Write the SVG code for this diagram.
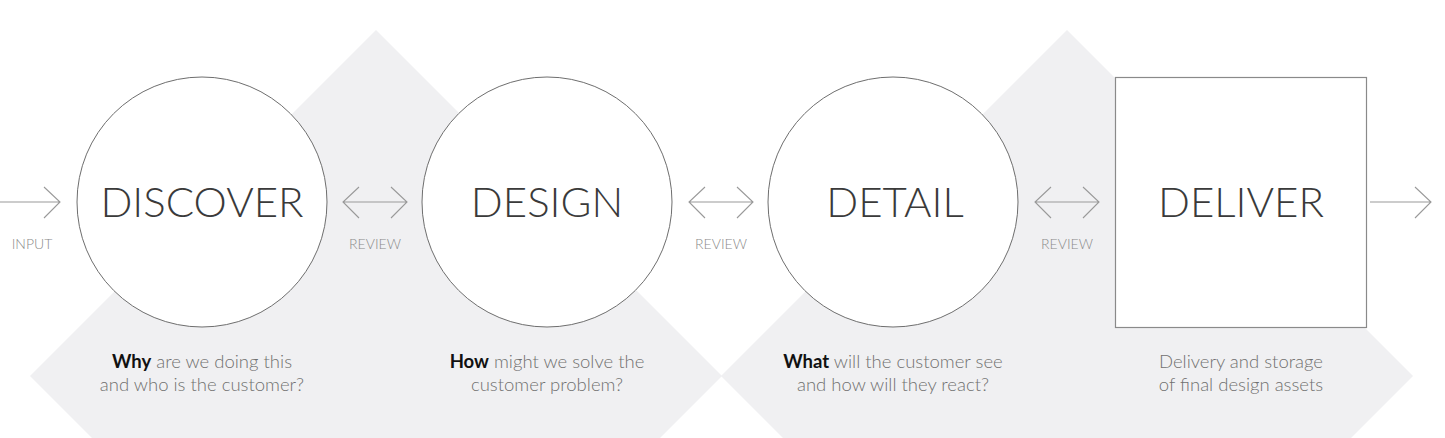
<svg xmlns="http://www.w3.org/2000/svg" width="1445" height="438" viewBox="0 0 1445 438">
<style>
.bg{fill:#f0f0f2}
.node{fill:#fff;stroke:#6e6e6e;stroke-width:1}
.sq{fill:#fff;stroke:#8a8a8a;stroke-width:1.2}
.title{font-family:Lato,"Open Sans","Liberation Sans",sans-serif;font-weight:300;font-size:42px;fill:#3a3a3a;text-anchor:middle}
.lab{font-family:Lato,"Open Sans","Liberation Sans",sans-serif;font-weight:300;font-size:14px;fill:#8a8a8a;text-anchor:middle}
.sub{font-family:Lato,"Open Sans","Liberation Sans",sans-serif;font-weight:300;font-size:18.5px;fill:#707070;text-anchor:middle}
.sub .b{font-weight:700;fill:#111}
.arr{fill:none;stroke:#999;stroke-width:1.1}
</style>
<g id="background">
<polygon class="bg" points="376,30 722,376 376,722 30,376"/>
<polygon class="bg" points="1067,30 1413,376 1067,722 721,376"/>
</g>
<g id="connectors">
<path class="arr" d="M0,202 H60 M44,187 L60,202 L44,218"/>
<path class="arr" d="M343,202 H407 M359,187 L343,202 L359,218 M391,187 L407,202 L391,218"/>
<path class="arr" d="M689,202 H753 M705,187 L689,202 L705,218 M737,187 L753,202 L737,218"/>
<path class="arr" d="M1035,202 H1099 M1051,187 L1035,202 L1051,218 M1083,187 L1099,202 L1083,218"/>
<path class="arr" d="M1370,202 H1431 M1415,187 L1431,202 L1415,218"/>
<text class="lab" x="32" y="249">INPUT</text>
<text class="lab" x="375" y="249">REVIEW</text>
<text class="lab" x="721" y="249">REVIEW</text>
<text class="lab" x="1067" y="249">REVIEW</text>
</g>
<g id="discover">
<circle class="node" cx="202" cy="202" r="125"/>
<text class="title" x="202" y="217">DISCOVER</text>
<text class="sub" x="202" y="368"><tspan class="b">Why</tspan> are we doing this</text>
<text class="sub" x="202" y="391">and who is the customer?</text>
</g>
<g id="design">
<circle class="node" cx="547" cy="202" r="125"/>
<text class="title" x="547" y="217">DESIGN</text>
<text class="sub" x="547" y="368"><tspan class="b">How</tspan> might we solve the</text>
<text class="sub" x="547" y="391">customer problem?</text>
</g>
<g id="detail">
<circle class="node" cx="893" cy="202" r="125"/>
<text class="title" x="895" y="217">DETAIL</text>
<text class="sub" x="893" y="368"><tspan class="b">What</tspan> will the customer see</text>
<text class="sub" x="893" y="391">and how will they react?</text>
</g>
<g id="deliver">
<rect class="sq" x="1115.5" y="77.5" width="251" height="250"/>
<text class="title" x="1241" y="217">DELIVER</text>
<text class="sub" x="1241" y="368">Delivery and storage</text>
<text class="sub" x="1241" y="391">of final design assets</text>
</g>
</svg>
